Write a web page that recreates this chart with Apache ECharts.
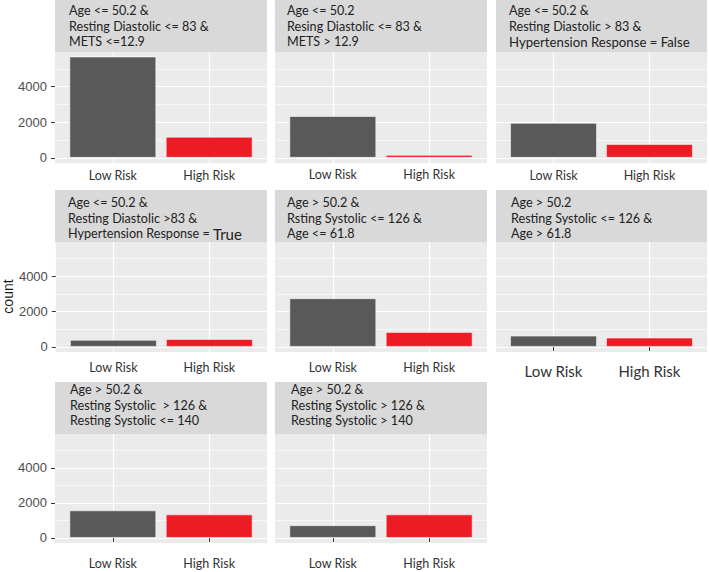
<!DOCTYPE html>
<html>
<head>
<meta charset="utf-8">
<script src="https://cdn.jsdelivr.net/npm/echarts@6/dist/echarts.min.js"></script>
<style>
  html, body { margin: 0; padding: 0; background: #fff; }
  #chart { width: 709px; height: 572px; }
</style>
</head>
<body>
<div id="chart"></div>
<script>
// data
const categories = ['Low Risk', 'High Risk']
const lowRisk = [5690, 2350, 1970, 400, 2760, 640, 1580, 730]
const highRisk = [1190, 170, 780, 450, 850, 530, 1350, 1350]
const yTicks = [0, 2000, 4000]
const panelTitles = [
  'Age <= 50.2 &\nResting Diastolic <= 83 &\nMETS <=12.9',
  'Age <= 50.2\nResing Diastolic <= 83 &\nMETS > 12.9',
  'Age <= 50.2 &\nResting Diastolic > 83 &\n{big|Hypertension Response = False}',
  'Age <= 50.2 &\nResting Diastolic >83 &\nHypertension Response = {huge|True}',
  'Age > 50.2 &\nRsting Systolic <= 126 &\nAge <= 61.8',
  'Age > 50.2\nResting Systolic <= 126 &\nAge > 61.8',
  'Age > 50.2 &\nResting Systolic  > 126 &\nResting Systolic <= 140',
  'Age > 50.2 &\nResting Systolic > 126 &\nResting Systolic > 140'
]

// layout
const colX = [55, 275, 496]
const colW = [212, 212, 211]
const stripTop = [0, 190, 382]
const plotTop = [51, 241, 433]
const plotH = [112, 111, 110]
const titleLeft = [69, 287, 509, 68, 287, 511, 70, 291]
const titleTop = [3, 3, 3, 195, 195, 195, 382, 382]
const xLab = [
  { size: 12.5, margin: 6, ticks: false },
  { size: 12.5, margin: 5, ticks: false },
  { size: 12.5, margin: 6, ticks: false },
  { size: 12.5, margin: 9, ticks: false },
  { size: 12.5, margin: 9, ticks: false },
  { size: 15, margin: 11, ticks: true },
  { size: 12.5, margin: 14, ticks: true },
  { size: 12.5, margin: 14, ticks: true }
]
const barColors = ['#595959', '#ed1c24']
const riskValues = [lowRisk, highRisk]

const grid = []
const xAxis = []
const yAxis = []
const series = []
const title = []
const graphic = []

panelTitles.forEach((txt, i) => {
  const row = Math.floor(i / 3)
  const col = i % 3
  graphic.push({
    type: 'rect',
    z: 10,
    shape: { x: colX[col], y: stripTop[row], width: colW[col], height: plotTop[row] - stripTop[row] + 1 },
    style: { fill: '#d9d9d9' }
  })
  title.push({
    text: txt,
    left: titleLeft[i],
    top: titleTop[i],
    padding: 0,
    z: 12,
    textStyle: {
      fontFamily: 'Lato',
      fontSize: 12.6,
      fontWeight: 'normal',
      color: '#222222',
      lineHeight: 15.5,
      rich: {
        big: { fontFamily: 'Lato', fontSize: 13.2, color: '#222222', lineHeight: 15.5 },
        huge: { fontFamily: 'Lato', fontSize: 15, color: '#222222', lineHeight: 13, verticalAlign: 'top' }
      }
    }
  })
  grid.push({
    left: colX[col],
    top: plotTop[row],
    width: colW[col],
    height: plotH[row],
    show: true,
    backgroundColor: '#ebebeb',
    borderWidth: 0
  })
  const lab = xLab[i]
  xAxis.push({
    type: 'value',
    gridIndex: i,
    min: 0.4,
    max: 2.6,
    minInterval: 1,
    maxInterval: 1,
    axisLine: { show: false },
    axisTick: { show: lab.ticks, length: 4, customValues: [1, 2], lineStyle: { color: '#333333', width: 1 } },
    axisLabel: {
      customValues: [1, 2],
      formatter: v => categories[Math.round(v) - 1] || '',
      margin: lab.margin,
      fontFamily: 'Lato',
      fontSize: lab.size,
      color: '#333333'
    },
    splitLine: { show: true, lineStyle: { color: '#ffffff', width: 1.2 } }
  })
  const firstCol = col === 0
  // major grid + labels
  yAxis.push({
    type: 'value',
    gridIndex: i,
    min: -290,
    max: 6000,
    minInterval: 2000,
    maxInterval: 2000,
    name: i === 3 ? 'count' : '',
    nameLocation: 'middle',
    nameGap: 36,
    nameTextStyle: { fontFamily: 'Liberation Sans', fontSize: 14, color: '#1a1a1a' },
    axisLine: { show: false },
    axisTick: { show: firstCol, length: 4, customValues: yTicks, lineStyle: { color: '#333333' } },
    axisLabel: {
      show: firstCol,
      customValues: yTicks,
      formatter: v => String(v),
      margin: 8,
      fontFamily: 'Liberation Sans',
      fontSize: 13,
      color: '#4d4d4d'
    },
    splitLine: { show: true, lineStyle: { color: '#ffffff', width: 1.2 } }
  })
  // minor grid
  yAxis.push({
    type: 'value',
    gridIndex: i,
    min: -290,
    max: 6000,
    minInterval: 1000,
    maxInterval: 1000,
    axisLine: { show: false },
    axisTick: { show: false },
    axisLabel: { show: false },
    splitLine: { show: true, lineStyle: { color: '#ffffff', width: 0.6 } }
  })
  series.push({
    type: 'bar',
    xAxisIndex: i,
    yAxisIndex: i * 2,
    barWidth: 87,
    silent: true,
    data: categories.map((c, k) => ({
      value: [k + 1, riskValues[k][i]],
      itemStyle: { color: barColors[k], borderColor: 'rgba(255,255,255,0.55)', borderWidth: 1 }
    }))
  })
})

const chart = echarts.init(document.getElementById('chart'), null, { renderer: 'svg' })
chart.setOption({
  animation: false,
  backgroundColor: '#ffffff',
  title,
  grid,
  xAxis,
  yAxis,
  series,
  graphic
})
</script>
</body>
</html>
